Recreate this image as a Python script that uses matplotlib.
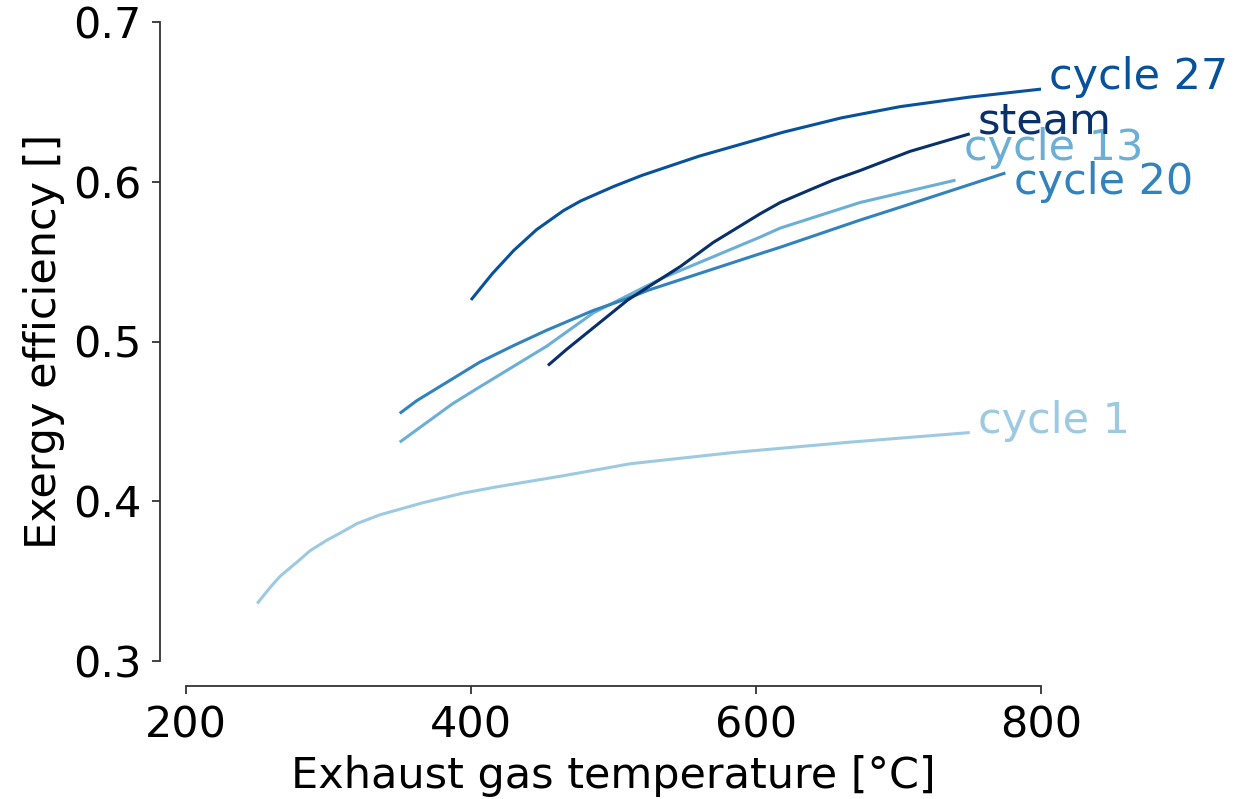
import matplotlib
matplotlib.use('Agg')
import matplotlib.pyplot as plt
import numpy as np

# exergy efficiency vs exhaust gas temperature, one curve per cycle
t_cycle1 = [250, 259, 266, 278, 287, 299, 308, 320, 336, 366, 394, 418, 465, 512, 584, 666, 750]
eta_cycle1 = [0.336, 0.346, 0.353, 0.362, 0.369, 0.3757, 0.380, 0.386, 0.3915, 0.399, 0.405,
              0.409, 0.416, 0.4235, 0.4305, 0.437, 0.443]

t_cycle13 = [350, 387, 406, 453, 486, 535, 603, 617, 673, 740]
eta_cycle13 = [0.437, 0.461, 0.4715, 0.497, 0.518, 0.540, 0.5654, 0.571, 0.587, 0.601]

t_cycle20 = [350, 362, 406, 430, 453, 486, 510, 524, 603, 617, 673, 701, 775]
eta_cycle20 = [0.455, 0.463, 0.487, 0.4975, 0.507, 0.5195, 0.527, 0.532, 0.555, 0.559, 0.576, 0.584, 0.6055]

t_cycle27 = [400, 415, 430, 446, 465, 477, 500, 520, 560, 619, 660, 701, 750, 800]
eta_cycle27 = [0.526, 0.5425, 0.557, 0.570, 0.582, 0.588, 0.597, 0.604, 0.616, 0.631, 0.640, 0.647, 0.653, 0.658]

t_steam = [454, 467, 510, 547, 570, 603, 617, 638, 654, 673, 708, 750]
eta_steam = [0.485, 0.495, 0.526, 0.547, 0.562, 0.580, 0.587, 0.595, 0.601, 0.607, 0.619, 0.630]

names = ['cycle 1', 'cycle 13', 'cycle 20', 'cycle 27', 'steam']
colors = ['#9ecae1', '#6baed6', '#3182bd', '#08519c', '#08306b']
# label offsets in points (dx, dy) from the end of each curve
label_offsets = [(6, 0), (6, 14.5), (6, -15), (6, 0), (6, 0)]

series = [(t_cycle1, eta_cycle1), (t_cycle13, eta_cycle13), (t_cycle20, eta_cycle20),
          (t_cycle27, eta_cycle27), (t_steam, eta_steam)]

FS = 31
W, H = 1253, 799
fig = plt.figure(figsize=(W / 100, H / 100), dpi=100)
ax = fig.add_axes([186 / W, 1 - 661 / H, (1041 - 186) / W, (661 - 22) / H])

for (t, eta), name, c, off in zip(series, names, colors, label_offsets):
    ax.plot(t, eta, color=c, lw=2.2, solid_capstyle='butt', solid_joinstyle='round')
    ax.annotate(name, xy=(t[-1], eta[-1]), xytext=off, textcoords='offset points',
                color=c, fontsize=FS, va='baseline', ha='left', annotation_clip=False)

ax.set_xlim(200, 800)
ax.set_ylim(0.3, 0.7)
ax.set_xticks([200, 400, 600, 800])
ax.set_yticks([0.3, 0.4, 0.5, 0.6, 0.7])
ax.set_yticklabels(['0.3', '0.4', '0.5', '0.6', '0.7'])

for s in ('top', 'right'):
    ax.spines[s].set_visible(False)
ax.spines['left'].set_position(('outward', 18.5))
ax.spines['bottom'].set_position(('outward', 18))
ax.spines['left'].set_bounds(0.3, 0.7)
ax.spines['bottom'].set_bounds(200, 800)
for s in ('left', 'bottom'):
    ax.spines[s].set_linewidth(1.3)
    ax.spines[s].set_color('0.2')
ax.tick_params(axis='both', labelsize=FS, length=5.5, width=1.3, color='0.2', pad=8)

ax.set_xlabel('Exhaust gas temperature [°C]', fontsize=FS, labelpad=6)
ax.set_ylabel('Exergy efficiency []', fontsize=FS, labelpad=6)

fig.savefig('out.png', dpi=100)
